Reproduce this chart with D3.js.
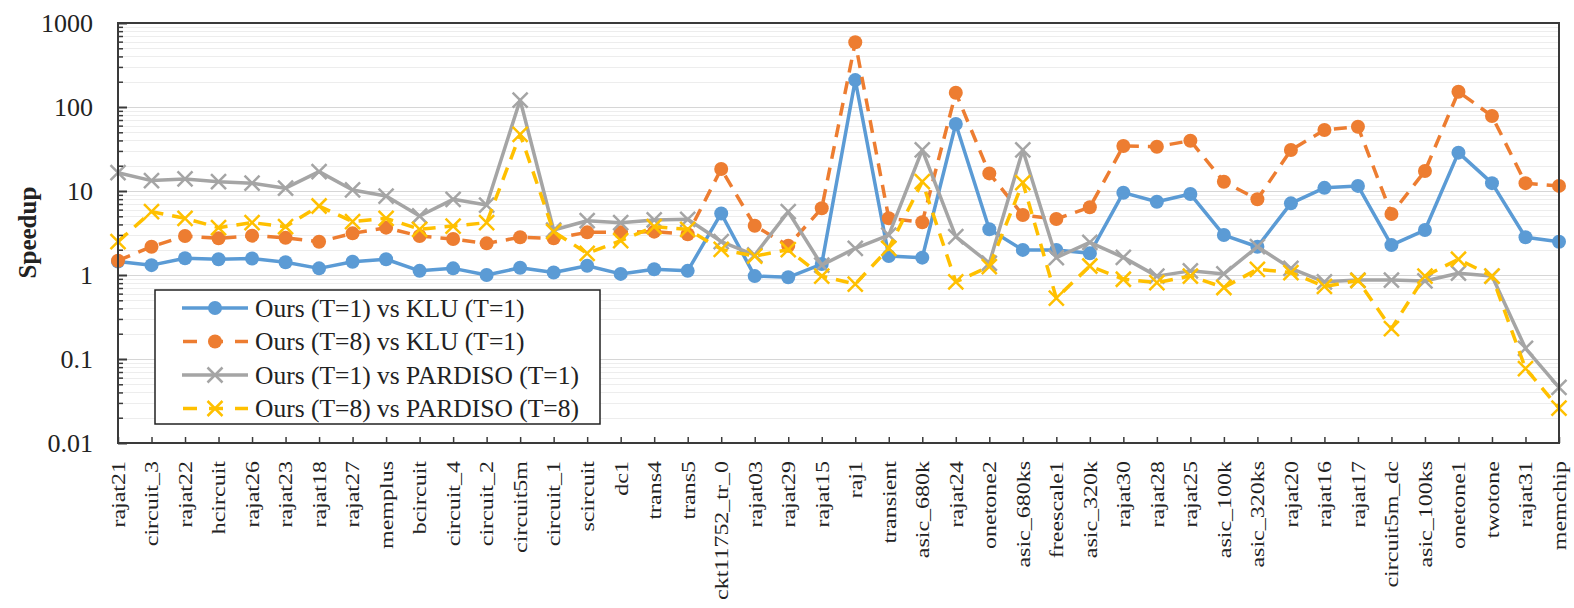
<!DOCTYPE html>
<html>
<head>
<meta charset="utf-8">
<script src="https://cdn.jsdelivr.net/npm/d3@7"></script>
<style>
  body { margin: 0; background: #fff; }
  svg { display: block; font-family: "Liberation Serif", "Times New Roman", serif; }
  .axis path.domain { display: none; }
  .grid line { shape-rendering: crispEdges; }
</style>
</head>
<body>
<svg id="chart"></svg>
<script>
const categories = ['rajat21', 'circuit_3', 'rajat22', 'hcircuit', 'rajat26', 'rajat23', 'rajat18', 'rajat27',
  'memplus', 'bcircuit', 'circuit_4', 'circuit_2', 'circuit5m', 'circuit_1', 'scircuit', 'dc1', 'trans4', 'trans5',
  'ckt11752_tr_0', 'rajat03', 'rajat29', 'rajat15', 'raj1', 'transient', 'asic_680k', 'rajat24', 'onetone2',
  'asic_680ks', 'freescale1', 'asic_320k', 'rajat30', 'rajat28', 'rajat25', 'asic_100k', 'asic_320ks', 'rajat20',
  'rajat16', 'rajat17', 'circuit5m_dc', 'asic_100ks', 'onetone1', 'twotone', 'rajat31', 'memchip'];

// Ours (T=1) vs KLU (T=1)
const klu1 = [1.45, 1.31, 1.58, 1.54, 1.57, 1.42, 1.2, 1.44, 1.54, 1.12, 1.2, 1.0, 1.22, 1.07, 1.29, 1.03, 1.17, 1.12,
  5.4, 0.97, 0.94, 1.35, 209, 1.68, 1.61, 62.8, 3.5, 1.99, 1.99, 1.81, 9.55, 7.46, 9.2, 2.99, 2.17, 7.13,
  10.9, 11.5, 2.27, 3.43, 28.6, 12.4, 2.81, 2.49];
// Ours (T=8) vs KLU (T=1)
const klu8 = [1.48, 2.17, 2.91, 2.73, 2.94, 2.78, 2.49, 3.13, 3.66, 2.91, 2.68, 2.38, 2.81, 2.73, 3.22, 3.22, 3.28, 3.05,
  18.3, 3.86, 2.23, 6.22, 589, 4.73, 4.24, 148, 16.2, 5.18, 4.64, 6.4, 34.3, 33.7, 39.7, 12.9, 7.96, 30.8,
  53.2, 58.3, 5.32, 17.3, 152, 78, 12.4, 11.5];
// Ours (T=1) vs PARDISO (T=1)
const pardiso1 = [16.5, 13.3, 13.9, 12.9, 12.4, 10.8, 17, 10.3, 8.7, 5.04, 7.96, 6.8, 121, 3.43, 4.43, 4.2, 4.52, 4.6,
  2.5, 1.73, 5.67, 1.31, 2.08, 2.99, 30.8, 2.86, 1.38, 30.8, 1.61, 2.45, 1.62, 0.97, 1.12, 1.03, 2.17, 1.2,
  0.83, 0.87, 0.87, 0.85, 1.05, 0.97, 0.134, 0.046];
// Ours (T=8) vs PARDISO (T=8)
const pardiso8 = [2.49, 5.67, 4.73, 3.66, 4.2, 3.76, 6.63, 4.31, 4.73, 3.5, 3.83, 4.2, 47.3, 3.28, 1.81, 2.56, 3.76, 3.5,
  2.02, 1.68, 2.0, 0.97, 0.78, 2.08, 12.9, 0.83, 1.26, 12.6, 0.53, 1.28, 0.89, 0.81, 0.97, 0.71, 1.17, 1.07,
  0.73, 0.86, 0.23, 0.97, 1.54, 0.97, 0.077, 0.026];

const seriesNames = ['Ours (T=1) vs KLU (T=1)', 'Ours (T=8) vs KLU (T=1)',
  'Ours (T=1) vs PARDISO (T=1)', 'Ours (T=8) vs PARDISO (T=8)'];
const seriesValues = [klu1, klu8, pardiso1, pardiso8];
const seriesColors = ['#5b9bd5', '#ed7d31', '#a5a5a5', '#ffc000'];
const seriesDashed = [false, true, false, true];
const seriesMarker = ['circle', 'circle', 'cross', 'cross'];

const majorTicks = [0.01, 0.1, 1, 10, 100, 1000];
const majorLabels = ['0.01', '0.1', '1', '10', '100', '1000'];

class SpeedupChart {

  constructor(_config) {
    this.config = {
      parentElement: _config.parentElement,
      containerWidth: _config.containerWidth || 1574,
      containerHeight: _config.containerHeight || 608,
      margin: _config.margin || {top: 23, right: 15, bottom: 165, left: 118}
    };
    this.initVis();
  }

  initVis() {
    let vis = this;

    vis.width = vis.config.containerWidth - vis.config.margin.left - vis.config.margin.right;
    vis.height = vis.config.containerHeight - vis.config.margin.top - vis.config.margin.bottom;

    vis.xScale = d3.scalePoint()
        .domain(categories)
        .range([0, vis.width]);

    vis.yScale = d3.scaleLog()
        .domain([0.01, 1000])
        .range([vis.height, 0]);

    // minor values 2..9 for every decade
    vis.minorTicks = [];
    majorTicks.slice(0, -1).forEach(m => {
      for (let k = 2; k <= 9; k++) vis.minorTicks.push(+(m * k).toPrecision(3));
    });

    vis.svg = d3.select(vis.config.parentElement)
        .attr('width', vis.config.containerWidth)
        .attr('height', vis.config.containerHeight);

    vis.chart = vis.svg.append('g')
        .attr('transform', `translate(${vis.config.margin.left},${vis.config.margin.top})`);

    vis.renderVis();
  }

  renderVis() {
    let vis = this;

    // gridlines
    vis.chart.append('g')
        .attr('class', 'grid')
        .call(d3.axisLeft(vis.yScale).tickValues(vis.minorTicks).tickSize(-vis.width).tickFormat(''))
        .call(g => g.select('.domain').remove())
        .selectAll('line').attr('stroke', '#ededed').attr('stroke-width', 1);

    vis.chart.append('g')
        .attr('class', 'grid')
        .call(d3.axisLeft(vis.yScale).tickValues(majorTicks).tickSize(-vis.width).tickFormat(''))
        .call(g => g.select('.domain').remove())
        .selectAll('line').attr('stroke', '#d6d6d6').attr('stroke-width', 1.5);

    // series lines and markers
    const line = d3.line()
        .x((d, i) => vis.xScale(categories[i]))
        .y(d => vis.yScale(d));

    seriesValues.forEach((vals, s) => {
      const g = vis.chart.append('g').attr('class', 'series');
      g.append('path')
          .datum(vals)
          .attr('fill', 'none')
          .attr('stroke', seriesColors[s])
          .attr('stroke-width', 3.5)
          .attr('stroke-linejoin', 'round')
          .attr('stroke-dasharray', seriesDashed[s] ? '13,9' : null)
          .attr('d', line);

      vis.drawMarkers(g, vals.map((v, i) => [vis.xScale(categories[i]), vis.yScale(v)]), s);
    });

    // frame
    vis.chart.append('rect')
        .attr('width', vis.width)
        .attr('height', vis.height)
        .attr('fill', 'none')
        .attr('stroke', '#3a3a3a')
        .attr('stroke-width', 2);

    // y axis: inside ticks, major and minor
    vis.chart.append('g')
        .attr('class', 'axis')
        .call(d3.axisLeft(vis.yScale).tickValues(vis.minorTicks).tickSize(-5).tickFormat(''))
        .selectAll('line').attr('stroke', '#3a3a3a').attr('stroke-width', 1.5);

    const yAxisG = vis.chart.append('g')
        .attr('class', 'axis')
        .call(d3.axisLeft(vis.yScale).tickValues(majorTicks).tickSize(-9).tickPadding(25)
          .tickFormat((d, i) => majorLabels[i]));
    yAxisG.selectAll('line').attr('stroke', '#3a3a3a').attr('stroke-width', 2);
    yAxisG.selectAll('text')
        .attr('font-size', 26)
        .attr('font-family', '"Liberation Serif", "Times New Roman", serif')
        .attr('fill', '#222');

    // x axis: inside ticks, tall rotated labels
    const xAxisG = vis.chart.append('g')
        .attr('class', 'axis')
        .attr('transform', `translate(0,${vis.height})`)
        .call(d3.axisBottom(vis.xScale).tickSize(-6));
    xAxisG.selectAll('line').attr('stroke', '#3a3a3a').attr('stroke-width', 1.5);
    xAxisG.selectAll('text')
        .attr('x', 0).attr('y', 0).attr('dy', '0.33em')
        .attr('text-anchor', 'end')
        .attr('transform', 'translate(0,18) rotate(-90) scale(1,0.8)')
        .attr('font-size', 24)
        .attr('font-family', '"Liberation Serif", "Times New Roman", serif')
        .attr('fill', '#222');

    // axis title
    vis.svg.append('text')
        .attr('transform', `translate(27,${vis.config.margin.top + vis.yScale(3.2)}) rotate(-90)`)
        .attr('text-anchor', 'middle')
        .attr('dy', '0.35em')
        .attr('font-size', 25)
        .attr('font-weight', 'bold')
        .attr('fill', '#222')
        .text('Speedup');

    vis.renderLegend();
  }

  drawMarkers(g, pts, s) {
    if (seriesMarker[s] === 'circle') {
      g.selectAll('circle')
          .data(pts)
        .join('circle')
          .attr('cx', d => d[0])
          .attr('cy', d => d[1])
          .attr('r', 7)
          .attr('fill', seriesColors[s]);
    } else {
      const r = 7.5;
      g.selectAll('path.marker')
          .data(pts)
        .join('path')
          .attr('class', 'marker')
          .attr('d', d => `M${d[0] - r},${d[1] - r}L${d[0] + r},${d[1] + r}M${d[0] - r},${d[1] + r}L${d[0] + r},${d[1] - r}`)
          .attr('stroke', seriesColors[s])
          .attr('stroke-width', 2.5)
          .attr('fill', 'none');
    }
  }

  renderLegend() {
    let vis = this;
    const lg = vis.svg.append('g').attr('transform', 'translate(155,290)');
    lg.append('rect')
        .attr('width', 445)
        .attr('height', 134)
        .attr('fill', '#fff')
        .attr('stroke', '#222')
        .attr('stroke-width', 1.5);

    seriesNames.forEach((name, s) => {
      const y = 18 + s * 33.5;
      const row = lg.append('g');
      row.append('line')
          .attr('x1', 27).attr('x2', 93)
          .attr('y1', y).attr('y2', y)
          .attr('stroke', seriesColors[s])
          .attr('stroke-width', 3.5)
          .attr('stroke-dasharray', seriesDashed[s] ? '14,12' : null)
          .attr('stroke-dashoffset', seriesDashed[s] ? -1 : null);
      vis.drawMarkers(row, [[60, y]], s);
      row.append('text')
          .attr('x', 100)
          .attr('y', y)
          .attr('dy', '0.35em')
          .attr('font-size', 25.5)
          .attr('fill', '#222')
          .text(name);
    });
  }
}

new SpeedupChart({parentElement: '#chart'});
</script>
</body>
</html>
